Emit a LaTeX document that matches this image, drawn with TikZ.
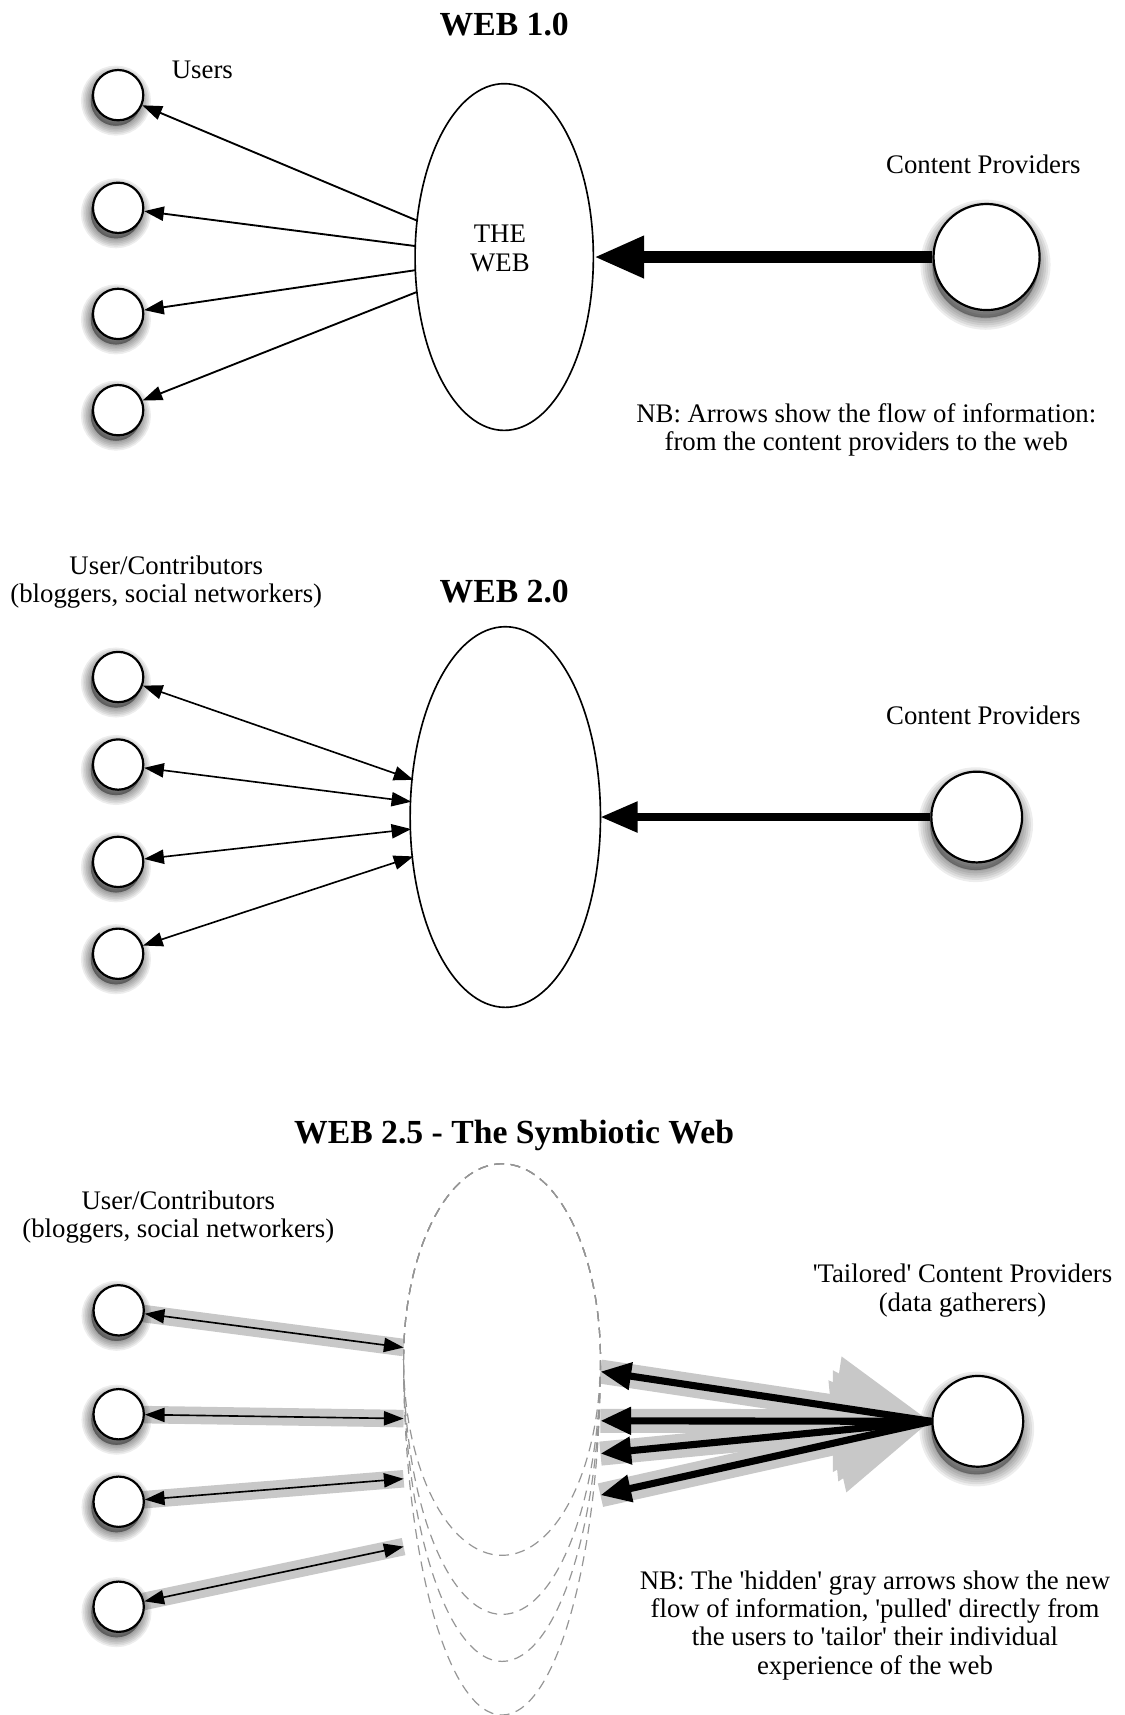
\documentclass[tikz,border=0pt]{standalone}
\usepackage{fontspec}
\setmainfont{Liberation Serif}
\usetikzlibrary{arrows.meta,shapes.geometric}
\newcommand{\sq}{\textquotesingle}
\definecolor{bandgray}{RGB}{200,200,200}
\definecolor{dashgray}{RGB}{150,150,150}
\pgfdeclarelayer{paper}
\pgfdeclarelayer{bg}
\pgfdeclarelayer{mid}
\pgfsetlayers{paper,bg,mid,main}
\begin{document}
\begin{tikzpicture}[x=1pt,y=-1pt,
  shad/.style n args={3}{preaction={draw=black,fill=black,opacity=0.07,line width=#1,
      transform canvas={xshift=#2,yshift=#3}}},
  usr/.style={circle,draw,line width=2pt,fill=white,minimum size=46pt,inner sep=0pt,
    shad={18pt}{-2pt}{-5pt},shad={15pt}{-2pt}{-5pt},shad={12pt}{-2pt}{-5pt},shad={9pt}{-2pt}{-5pt},
    shad={6pt}{-2pt}{-5pt},shad={3pt}{-2pt}{-5pt},shad={0.5pt}{-2pt}{-5pt}},
  provbase/.style={circle,draw,line width=2pt,fill=white,inner sep=0pt,
    shad={22pt}{-1pt}{-7pt},shad={18pt}{-1pt}{-7pt},shad={14pt}{-1pt}{-7pt},shad={10pt}{-1pt}{-7pt},
    shad={6pt}{-1pt}{-7pt},shad={2pt}{-1pt}{-7pt}},
  prov/.style={provbase,minimum size=97pt},
  prov2/.style={provbase,minimum size=83pt},
  webell/.style={ellipse,draw,line width=1.5pt,inner sep=0pt},
  dashline/.style={draw=dashgray,line width=1.1pt,dash pattern=on 9pt off 6pt},
  lbl/.style={font=\fontsize{24.5}{26}\selectfont,align=center,inner sep=0pt},
  ttl/.style={font=\bfseries\fontsize{30.8}{34}\selectfont,inner sep=0pt},
  thinarr/.style={line width=1.7pt,-{Triangle[length=18pt,width=13pt]}},
  dblarr/.style={line width=1.5pt,{Triangle[length=18pt,width=13pt]}-{Triangle[length=18pt,width=13pt]}},
  band/.style={draw=bandgray,line width=16pt},
  grayarr/.style={draw=bandgray,line width=22pt,-{Triangle[length=90pt,width=86pt]}},
  blackarr/.style={line width=6.5pt,-{Triangle[length=28pt,width=24pt]}}
]
\useasboundingbox (0,0) rectangle (1028,1568);
\begin{pgfonlayer}{paper}
\fill[white] (0,0) rectangle (1028,1568);
\end{pgfonlayer}

% ---------------- WEB 1.0 ----------------
\node[ttl] (t1) at (461,22) {WEB 1.0};
\node[lbl] (usersl) at (185,64) {Users};
\node[webell,minimum width=163pt,minimum height=317pt] (w1) at (461,235) {};
\node[lbl] (thetxt) at (457,227) {THE\\WEB};
\node[usr] (u1a) at (108,87) {};
\node[usr] (u1b) at (108,190) {};
\node[usr] (u1c) at (108,287) {};
\node[usr] (u1d) at (108,375) {};
\coordinate (w1p1) at (382,202);
\coordinate (w1p2) at (380,225);
\coordinate (w1p3) at (380,247);
\coordinate (w1p4) at (381,267);
\draw[thinarr] (w1p1) -- (u1a);
\draw[thinarr] (w1p2) -- (u1b);
\draw[thinarr] (w1p3) -- (u1c);
\draw[thinarr] (w1p4) -- (u1d);
\node[prov] (cp1) at (902,235) {};
\node[lbl] (cpl1) at (899,150) {Content Providers};
\coordinate (w1r) at (543,235);
\draw[line width=11pt,-{Triangle[length=46pt,width=36pt]}] (cp1) -- (w1r);
\node[lbl] (nb1) at (792,393) {NB: Arrows show the flow of information:\\from the content providers to the web};

% ---------------- WEB 2.0 ----------------
\node[lbl] (uc2) at (152,532) {User/Contributors\\(bloggers, social networkers)};
\node[ttl] (t2) at (461,541) {WEB 2.0};
\node[webell,minimum width=174pt,minimum height=348pt] (w2) at (462,747) {};
\node[usr] (u2a) at (108,619) {};
\node[usr] (u2b) at (108,699) {};
\node[usr] (u2c) at (108,788) {};
\node[usr] (u2d) at (108,872) {};
\coordinate (w2p1) at (378,713);
\coordinate (w2p2) at (376,733);
\coordinate (w2p3) at (376,758);
\coordinate (w2p4) at (378,783);
\draw[dblarr] (u2a) -- (w2p1);
\draw[dblarr] (u2b) -- (w2p2);
\draw[dblarr] (u2c) -- (w2p3);
\draw[dblarr] (u2d) -- (w2p4);
\node[prov2] (cp2) at (893,747) {};
\node[lbl] (cpl2) at (899,654) {Content Providers};
\coordinate (w2r) at (549,747);
\draw[line width=6.5pt,-{Triangle[length=34pt,width=27pt]}] (cp2) -- (w2r);

% ---------------- WEB 2.5 ----------------
\node[ttl] (t3) at (470,1038) {WEB 2.5 - The Symbiotic Web};
\node[lbl] (uc3) at (163,1113) {User/Contributors\\(bloggers, social networkers)};
\node[lbl] (tcp) at (880,1180) {\sq Tailored\sq{} Content Providers\\(data gatherers)};
\node[lbl] (nb3) at (800,1486) {NB: The \sq hidden\sq{} gray arrows show the new\\flow of information, \sq pulled\sq{} directly from\\the users to \sq tailor\sq{} their individual\\experience of the web};
\node[usr] (u3a) at (108.5,1198) {};
\node[usr] (u3b) at (108.5,1293) {};
\node[usr] (u3c) at (108.5,1373) {};
\node[usr] (u3d) at (108.5,1469) {};
\node[prov2] (cp3) at (894,1299.5) {};
% dashed "stacked" web outlines: shared upper half, deeper lower halves
\begin{pgfonlayer}{mid}
\foreach \ry in {179,233,276,325}{
  \draw[dashline] (369,1243) arc[start angle=180,end angle=360,x radius=90,y radius=179]
                             arc[start angle=0,end angle=180,x radius=90,y radius=\ry];
}
\end{pgfonlayer}
\coordinate (l1) at (369,1232);
\coordinate (l2) at (369,1297);
\coordinate (l3) at (369,1352);
\coordinate (l4) at (369,1414);
\coordinate (r1) at (549,1254);
\coordinate (r2) at (549,1299);
\coordinate (r3) at (549,1329);
\coordinate (r4) at (549,1367);
\begin{pgfonlayer}{bg}
\draw[band] (u3a.center) -- (l1);
\draw[band] (u3b.center) -- (l2);
\draw[band] (u3c.center) -- (l3);
\draw[band] (u3d.center) -- (l4);
\draw[grayarr] (r1) -- (cp3.west);
\draw[grayarr] (r2) -- (cp3.west);
\draw[grayarr] (r3) -- (cp3.west);
\draw[grayarr] (r4) -- (cp3.west);
\end{pgfonlayer}
\begin{pgfonlayer}{mid}
\draw[dblarr] (u3a) -- (l1);
\draw[dblarr] (u3b) -- (l2);
\draw[dblarr] (u3c) -- (l3);
\draw[dblarr] (u3d) -- (l4);
\draw[blackarr] (cp3.west) -- (r1);
\draw[blackarr] (cp3.west) -- (r2);
\draw[blackarr] (cp3.west) -- (r3);
\draw[blackarr] (cp3.west) -- (r4);
\end{pgfonlayer}
\end{tikzpicture}
\end{document}
